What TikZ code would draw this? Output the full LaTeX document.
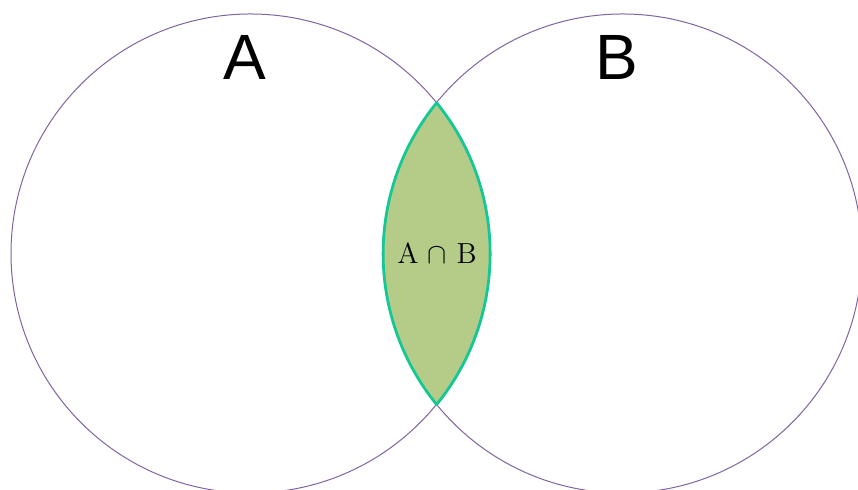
\documentclass[tikz,border=0pt]{standalone}
\usepackage{fontspec}
\usepackage{amssymb}
\usepackage{xcolor}
\newfontfamily\setfont{Liberation Sans}
\definecolor{setline}{HTML}{8064A2}
\definecolor{lensfill}{HTML}{B5CC88}
\definecolor{lensline}{HTML}{16C796}

\tikzset{
  setcircle/.style={circle, draw=setline, line width=0.5pt, minimum size=239.5pt, inner sep=0pt, outer sep=0pt},
  setname/.style={font=\setfont\fontsize{32}{36}\selectfont, text=black},
  lens/.style={fill=lensfill, draw=lensline, line width=1.4pt, line join=round}
}

\begin{document}
\begin{tikzpicture}[x=0.5pt, y=0.5pt]
\useasboundingbox (0,0) rectangle (858,490);
\node[setcircle] (A) at (250.5,236.5) {};
\node[setcircle] (B) at (622.5,236.5) {};
% lens = right arc of A + left arc of B
\coordinate (top) at (A.39.05);
\coordinate (bot) at (A.-39.05);
\draw[lens] (top) arc[start angle=39.05, end angle=-39.05, radius=239.5]
  arc[start angle=219.05, end angle=140.95, radius=239.5] -- cycle;
\node[setname] (labA) at (245,433) {A};
\node[setname] (labB) at (617,433) {B};
\node[font=\fontsize{14.5}{16}\selectfont] (AB) at (437,237) {A $\cap$ B};
\end{tikzpicture}
\end{document}
